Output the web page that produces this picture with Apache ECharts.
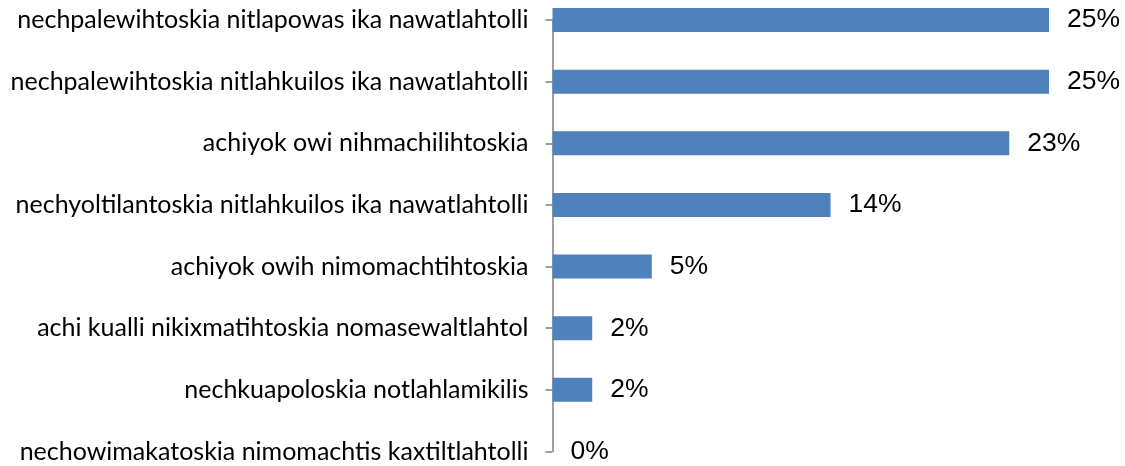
<!DOCTYPE html>
<html>
<head>
<meta charset="utf-8">
<script src="https://cdn.jsdelivr.net/npm/echarts@6/dist/echarts.min.js"></script>
<style>
  html, body { margin: 0; padding: 0; background: #fff; }
  #chart { width: 1125px; height: 466px; }
</style>
</head>
<body>
<div id="chart"></div>
<script>
const CATEGORIES = [
    'nechpalewihtoskia nitlapowas ika nawatlahtolli',
    'nechpalewihtoskia nitlahkuilos ika nawatlahtolli',
    'achiyok owi nihmachilihtoskia',
    'nechyoltilantoskia nitlahkuilos ika nawatlahtolli',
    'achiyok owih nimomachtihtoskia',
    'achi kualli nikixmatihtoskia nomasewaltlahtol',
    'nechkuapoloskia notlahlamikilis',
    'nechowimakatoskia nimomachtis kaxtiltlahtolli'
];
const VALUES = [25, 25, 23, 14, 5, 2, 2, 0];

const chart = echarts.init(document.getElementById('chart'));

const option = {
    animation: false,
    grid: {
        left: 552.5,
        right: 76,
        top: 20,
        bottom: 14.5
    },
    xAxis: {
        type: 'value',
        min: 0,
        max: 25,
        show: false
    },
    yAxis: {
        type: 'category',
        data: CATEGORIES,
        inverse: true,
        boundaryGap: false,
        axisLine: {
            show: true,
            lineStyle: { color: '#808080', width: 1.5 }
        },
        axisTick: {
            show: true,
            interval: 0,
            length: 7,
            lineStyle: { color: '#808080', width: 1.5 }
        },
        axisLabel: {
            margin: 24,
            color: '#000',
            fontFamily: 'Lato',
            fontSize: 25
        },
        splitLine: { show: false }
    },
    series: [{
        type: 'bar',
        data: VALUES,
        barWidth: 24,
        clip: true,
        itemStyle: {
            color: '#4f81bd'
        },
        label: {
            show: true,
            position: 'right',
            distance: 18,
            color: '#000',
            fontFamily: 'Liberation Sans',
            fontSize: 26.5,
            formatter: p => p.value + '%'
        }
    }]
};

chart.setOption(option);
</script>
</body>
</html>
